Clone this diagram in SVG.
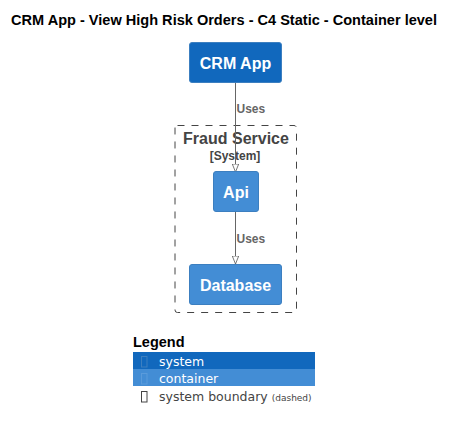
<svg xmlns="http://www.w3.org/2000/svg" width="455" height="430" viewBox="0 0 455 430">
<defs>
<style>
text{font-family:"Liberation Sans",Arial,sans-serif}
.title{font-size:14.5px;font-weight:bold;fill:#000}
.sys{fill:#1168BD;stroke:#3C7FC0;stroke-width:1}
.cont{fill:#438DD5;stroke:#3C7FC0;stroke-width:1}
.lbl{font-size:16px;font-weight:bold;fill:#FFFFFF;text-anchor:middle}
.bnd{fill:none;stroke:#444444;stroke-width:1;stroke-dasharray:7,7}
.bndt{font-size:16px;font-weight:bold;fill:#444444;text-anchor:middle}
.bnds{font-size:12px;font-weight:bold;fill:#444444;text-anchor:middle}
.rel{stroke:#666666;stroke-width:1;fill:none}
.rellbl{font-size:12px;font-weight:bold;fill:#666666}
.lg{font-family:"DejaVu Sans",Verdana,sans-serif;font-size:12.5px;fill:#FFFFFF}
.lgb{font-family:"DejaVu Sans",Verdana,sans-serif;font-size:12.5px;fill:#444444}
</style>
<marker id="arr" viewBox="0 0 10 10" refX="10" refY="5" markerWidth="8" markerHeight="8" markerUnits="userSpaceOnUse" orient="auto">
<path d="M0,1 L10,5 L0,9 Z" fill="#FFFFFF" stroke="#666666" stroke-width="1.1"/>
</marker>
</defs>
<rect width="455" height="430" fill="#FFFFFF"/>
<text class="title" x="11" y="25" textLength="426" lengthAdjust="spacingAndGlyphs">CRM App - View High Risk Orders - C4 Static - Container level</text>

<g id="fraud-service">
<rect class="bnd" x="175" y="125.5" width="121.5" height="187" rx="2.5"/>
<text class="bndt" x="236" y="143.5">Fraud Service</text>
<text class="bnds" x="235" y="160">[System]</text>
</g>

<g id="connectors">
<line class="rel" x1="235.5" y1="82.5" x2="235.5" y2="172" marker-end="url(#arr)"/>
<text class="rellbl" x="236.5" y="113">Uses</text>
<line class="rel" x1="235.5" y1="211" x2="235.5" y2="264" marker-end="url(#arr)"/>
<text class="rellbl" x="236.5" y="242.5">Uses</text>
</g>

<g id="crm-app">
<rect class="sys" x="189.5" y="42.5" width="92" height="40" rx="2.5"/>
<text class="lbl" x="235.5" y="69">CRM App</text>
</g>

<g id="api">
<rect class="cont" x="213.5" y="171.5" width="45" height="40" rx="2.5"/>
<text class="lbl" x="236" y="197.5">Api</text>
</g>

<g id="database">
<rect class="cont" x="189.5" y="264.5" width="92" height="40" rx="2.5"/>
<text class="lbl" x="235.5" y="291">Database</text>
</g>

<g id="legend">
<text x="133" y="347" style="font-size:14.5px;font-weight:bold;fill:#000">Legend</text>
<rect x="133" y="352" width="182" height="17" fill="#1168BD"/>
<rect x="133" y="369" width="182" height="17" fill="#438DD5"/>
<rect x="141.5" y="356.5" width="5.5" height="10.5" fill="none" stroke="#3C7FC0" stroke-width="1"/>
<rect x="141.5" y="373.5" width="5.5" height="10.5" fill="none" stroke="#5A9BDB" stroke-width="1"/>
<rect x="141.5" y="391.5" width="5.5" height="10.5" fill="none" stroke="#444444" stroke-width="1"/>
<text class="lg" x="159" y="366">system</text>
<text class="lg" x="159" y="383">container</text>
<text class="lgb" x="159" y="401">system boundary <tspan style="font-size:9px">(dashed)</tspan></text>
</g>
</svg>
